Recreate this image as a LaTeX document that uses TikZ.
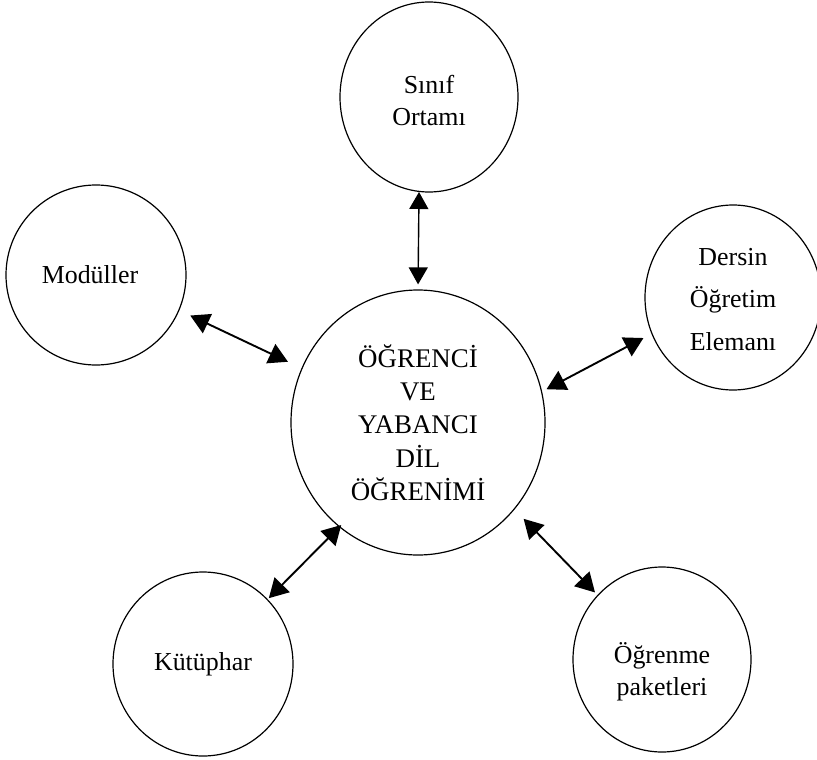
\documentclass[tikz,border=0pt]{standalone}
\usepackage{fontspec}
\setmainfont{Liberation Serif}
\usetikzlibrary{shapes.geometric,arrows.meta}
\newcommand\mylower[2]{\raisebox{-#1}[0pt][0pt]{\begin{tabular}{@{}c@{}}#2\end{tabular}}}
\begin{document}
\begin{tikzpicture}[x=1bp,y=-1bp,
  bubble/.style={ellipse,draw,line width=1.2bp,inner sep=0pt,align=center,
    font=\fontsize{26}{33}\selectfont},
  dbl/.style={line width=1.9bp,{Triangle[length=19bp,width=21bp]}-{Triangle[length=19bp,width=21bp]}}]
\useasboundingbox (0,0) rectangle (817,760);
\node[bubble,minimum width=254bp,minimum height=265bp,font=\fontsize{27}{33.5}\selectfont] (c) at (418,422.5)
  {ÖĞRENCİ\\VE\\YABANCI\\DİL\\ÖĞRENİMİ};
\node[bubble,minimum width=178bp,minimum height=190bp,font=\fontsize{26}{32}\selectfont] (s) at (429,97) {\mylower{12bp}{Sınıf\\Ortamı}};
\node[bubble,minimum width=180bp,minimum height=180bp] (m) at (96,275) {\hspace*{-6bp}Modüller\hspace*{6bp}};
\node[bubble,minimum width=176bp,minimum height=185bp,font=\fontsize{26}{43}\selectfont] (d) at (733,297.5) {\mylower{8bp}{Dersin\\Öğretim\\Elemanı}};
\node[bubble,minimum width=180bp,minimum height=184bp] (k) at (203,664) {Kütüphar};
\node[bubble,minimum width=178bp,minimum height=185bp,font=\fontsize{26}{32}\selectfont] (p) at (662,659.5) {\mylower{20bp}{Öğrenme\\paketleri}};
\draw[dbl,line width=1.4bp,{Triangle[length=17bp,width=19bp]}-{Triangle[length=17bp,width=19bp]},shorten >=5bp] (s.-96) -- (c.90);
\draw[dbl,shorten <=12bp,shorten >=15bp] (m.-23) -- (c.155.6);
\draw[dbl,shorten <=5bp,shorten >=9bp] (c.14.9) -- (d.-156.8);
\draw[dbl,shorten <=-3bp,shorten >=1.5bp] (c.-127.2) -- (k.45.4);
\draw[dbl,shorten <=13bp,shorten >=3.5bp] (c.-42.4) -- (p.135.2);
\end{tikzpicture}
\end{document}
